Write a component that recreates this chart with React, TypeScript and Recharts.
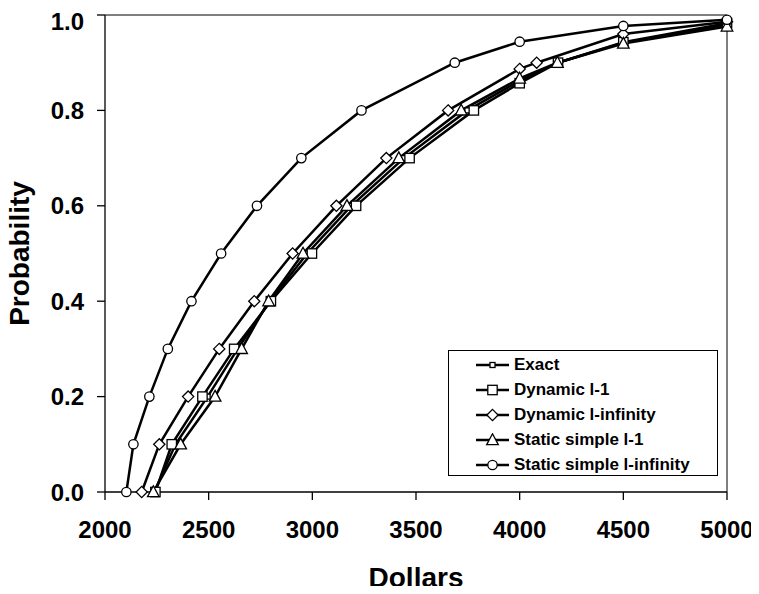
import { LineChart, Line, XAxis, YAxis, Legend, ReferenceLine } from 'recharts';

// values
const exactDollars = [2238, 2340, 2495, 2640, 2795, 2975, 3188, 3442, 3748, 4000, 4183, 4500, 5000];
const exactProb = [0, 0.1, 0.2, 0.3, 0.4, 0.5, 0.6, 0.7, 0.8, 0.862, 0.9, 0.942, 0.98];

const dynL1Dollars = [2243, 2322, 2470, 2623, 2800, 2998, 3211, 3469, 3779, 4000, 4185, 4500, 5000];
const dynL1Prob = [0, 0.1, 0.2, 0.3, 0.4, 0.5, 0.6, 0.7, 0.8, 0.857, 0.9, 0.943, 0.983];

const dynLinfDollars = [2177, 2262, 2401, 2551, 2720, 2905, 3116, 3357, 3655, 4000, 4082, 4500, 5000];
const dynLinfProb = [0, 0.1, 0.2, 0.3, 0.4, 0.5, 0.6, 0.7, 0.8, 0.887, 0.9, 0.96, 0.986];

const statL1Dollars = [2233, 2365, 2531, 2659, 2789, 2955, 3167, 3417, 3718, 4000, 4182, 4500, 5000];
const statL1Prob = [0, 0.1, 0.2, 0.3, 0.4, 0.5, 0.6, 0.7, 0.8, 0.867, 0.9, 0.94, 0.976];

const statLinfDollars = [2103, 2137, 2214, 2303, 2417, 2560, 2733, 2947, 3237, 3687, 4000, 4500, 5000];
const statLinfProb = [0, 0.1, 0.2, 0.3, 0.4, 0.5, 0.6, 0.7, 0.8, 0.9, 0.944, 0.977, 0.99];

const xTicks = [2000, 2500, 3000, 3500, 4000, 4500, 5000];
const yTicks = [0, 0.2, 0.4, 0.6, 0.8, 1.0];

const toPoints = (xs: number[], ps: number[]) => xs.map((x, i) => ({ x, p: ps[i] }));

const series = [
  { name: 'Exact', shape: 'smallSquare', data: toPoints(exactDollars, exactProb) },
  { name: 'Dynamic l-1', shape: 'square', data: toPoints(dynL1Dollars, dynL1Prob) },
  { name: 'Dynamic l-infinity', shape: 'diamond', data: toPoints(dynLinfDollars, dynLinfProb) },
  { name: 'Static simple l-1', shape: 'triangle', data: toPoints(statL1Dollars, statL1Prob) },
  { name: 'Static simple l-infinity', shape: 'circle', data: toPoints(statLinfDollars, statLinfProb) },
];

const FONT = '"Liberation Sans", Arial, sans-serif';

function Marker({ cx, cy, shape }: { cx: number; cy: number; shape: string }) {
  const st = { fill: '#fff', stroke: '#000', strokeWidth: 1.3 };
  switch (shape) {
    case 'circle':
      return <circle cx={cx} cy={cy} r={4.7} {...st} />;
    case 'square':
      return <rect x={cx - 4.7} y={cy - 4.7} width={9.4} height={9.4} {...st} />;
    case 'smallSquare':
      return <rect x={cx - 2.5} y={cy - 2.5} width={5} height={5} {...st} />;
    case 'diamond':
      return <polygon points={`${cx},${cy - 5.6} ${cx + 5.6},${cy} ${cx},${cy + 5.6} ${cx - 5.6},${cy}`} {...st} />;
    default:
      return <polygon points={`${cx},${cy - 6.2} ${cx + 5.8},${cy + 4.6} ${cx - 5.8},${cy + 4.6}`} {...st} />;
  }
}

function LegendBox() {
  return (
    <div
      style={{
        width: 270,
        height: 126,
        boxSizing: 'border-box',
        border: '1px solid #000',
        background: '#fff',
        paddingTop: 1,
        paddingLeft: 27,
        fontFamily: FONT,
        fontWeight: 'bold',
        fontSize: 17,
        color: '#000',
      }}
    >
      {series.map((s) => (
        <div key={s.name} style={{ height: 25, display: 'flex', alignItems: 'center' }}>
          <svg width={33} height={14} style={{ marginRight: 5 }}>
            <line x1={0} y1={7} x2={33} y2={7} stroke="#000" strokeWidth={2.5} />
            <Marker cx={16.5} cy={7} shape={s.shape} />
          </svg>
          <span>{s.name}</span>
        </div>
      ))}
    </div>
  );
}

const tickStyle = { fontFamily: FONT, fontWeight: 'bold', fontSize: 24, fill: '#000' };

export default function App() {
  return (
    <div style={{ marginLeft: -8, marginBottom: -8, height: 586 }}>
      <LineChart width={759} height={586} margin={{ top: 7, right: 32, bottom: 0, left: 8 }}>
        <XAxis
          type="number"
          dataKey="x"
          domain={[2000, 5000]}
          ticks={xTicks}
          allowDuplicatedCategory={false}
          height={102}
          tickSize={8}
          tickMargin={21}
          tick={tickStyle}
          axisLine={{ stroke: '#000', strokeWidth: 1.3 }}
          tickLine={{ stroke: '#000', strokeWidth: 1.3 }}
          label={(props: any) => {
            const vb = props.viewBox;
            return (
              <text x={vb.x + vb.width / 2} y={579} textAnchor="middle" style={{ fontFamily: FONT, fontWeight: 'bold', fontSize: 28 }}>
                Dollars
              </text>
            );
          }}
        />
        <YAxis
          type="number"
          dataKey="p"
          domain={[0, 1]}
          ticks={yTicks}
          width={97}
          tickSize={8}
          tickMargin={13}
          tick={tickStyle}
          tickFormatter={(v: number) => v.toFixed(1)}
          axisLine={{ stroke: '#000', strokeWidth: 1.3 }}
          tickLine={{ stroke: '#000', strokeWidth: 1.3 }}
          label={(props: any) => {
            const vb = props.viewBox;
            const cy = vb.y + vb.height / 2;
            return (
              <text x={29} y={cy} transform={`rotate(-90 29 ${cy})`} textAnchor="middle" style={{ fontFamily: FONT, fontWeight: 'bold', fontSize: 28 }}>
                Probability
              </text>
            );
          }}
        />
        <ReferenceLine y={1} stroke="#000" strokeWidth={1} />
        <ReferenceLine x={5000} stroke="#000" strokeWidth={1} />
        {series.map((s) => (
          <Line
            key={s.name}
            data={s.data}
            dataKey="p"
            name={s.name}
            type="linear"
            stroke="#000"
            strokeWidth={2.5}
            isAnimationActive={false}
            dot={(props: any) => <Marker key={`${s.name}-${props.index}`} cx={props.cx} cy={props.cy} shape={s.shape} />}
            activeDot={false}
          />
        ))}
        <Legend
          layout="vertical"
          align="center"
          verticalAlign="middle"
          content={() => <LegendBox />}
          wrapperStyle={{ left: 448, top: 342, width: 270, height: 126 }}
        />
      </LineChart>
    </div>
  );
}
